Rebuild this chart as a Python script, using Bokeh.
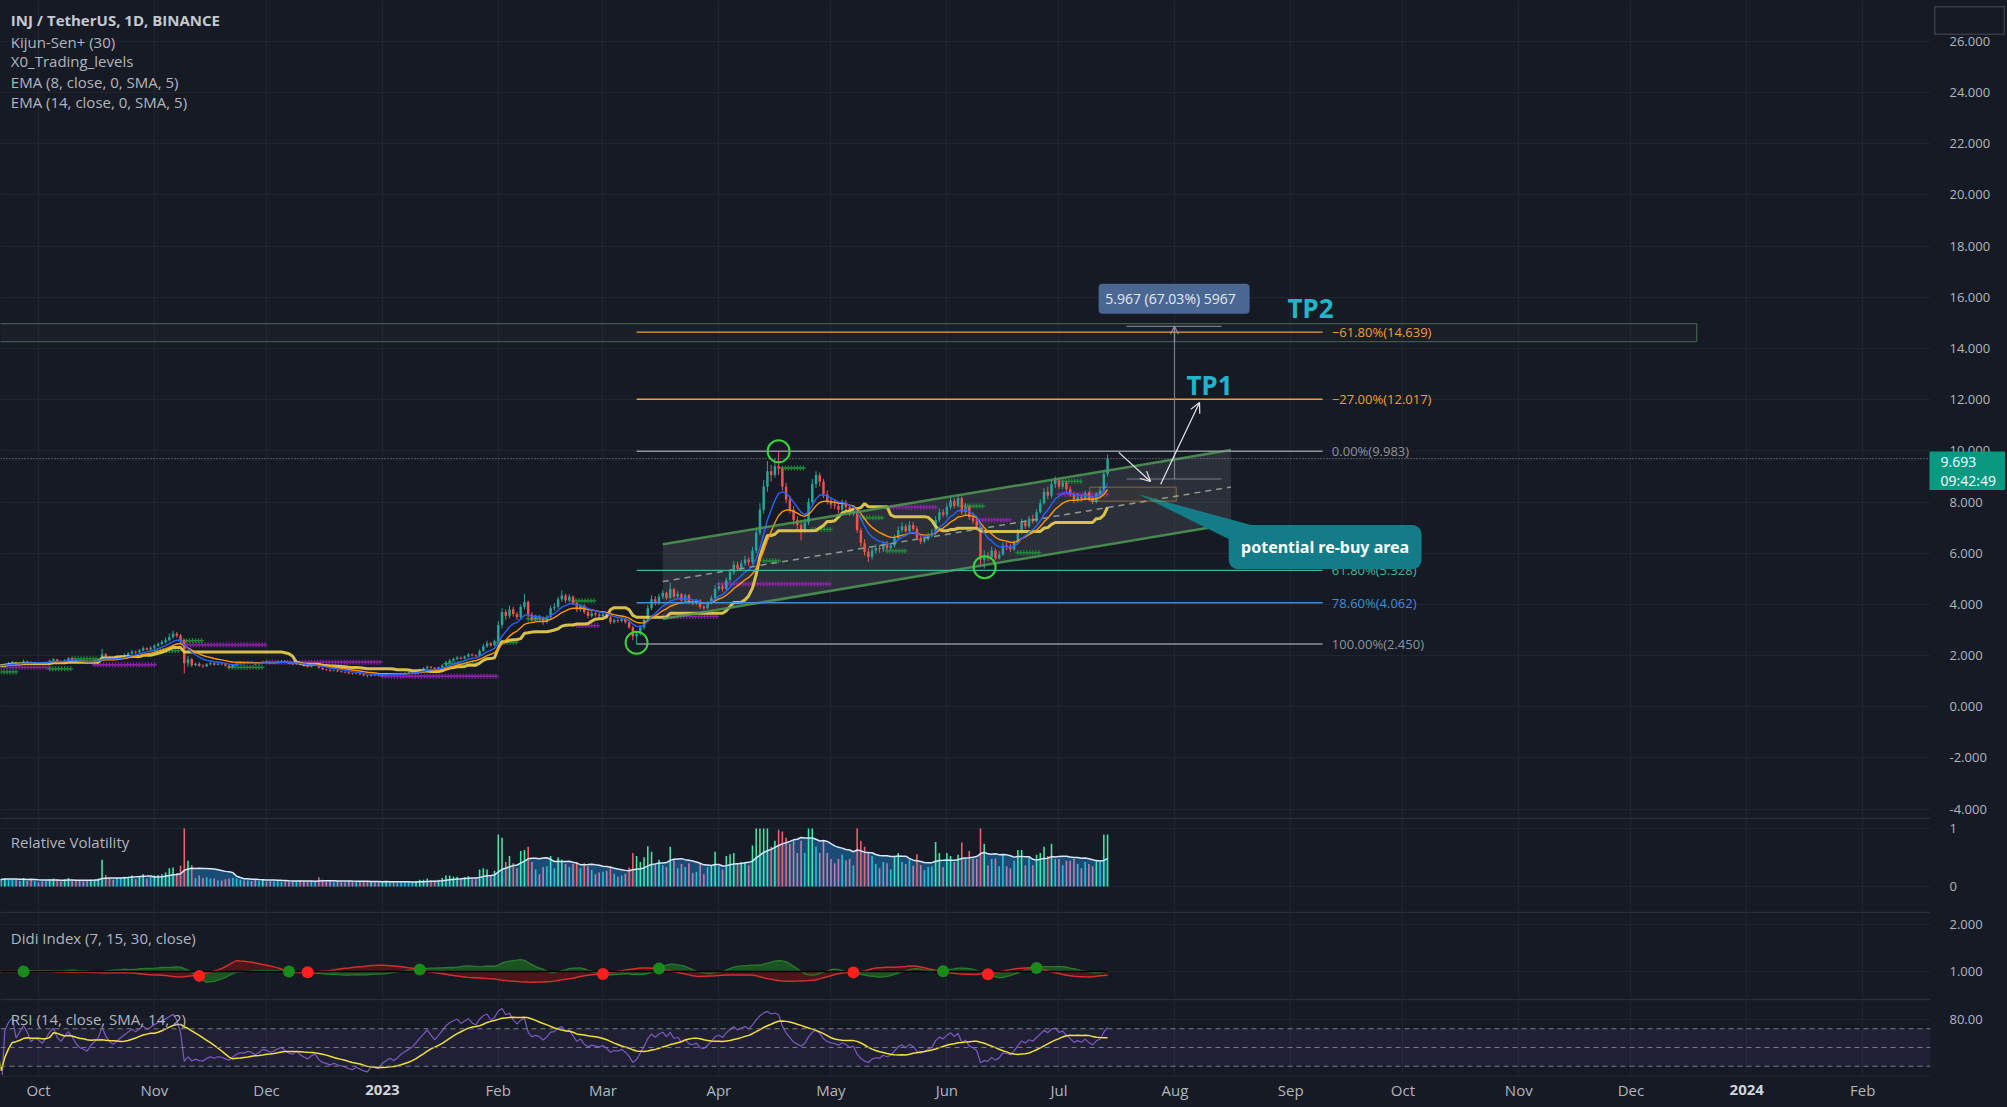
import numpy as np
import pandas as pd
from bokeh.plotting import figure
from bokeh.layouts import column, row
from bokeh.models import (Range1d, FixedTicker, Span, BoxAnnotation, Label, Arrow,
                          OpenHead, NumeralTickFormatter, GridBox, Spacer)
from bokeh.core.properties import value
from bokeh.embed import file_html
from bokeh.resources import INLINE

# ---------------- data (daily INJ/USDT) ----------------
START = "2022-09-20"
FIRST_OPEN = 1.60

close_sep22 = [1.62, 1.58, 1.66, 1.70, 1.74, 1.68, 1.72, 1.78, 1.75, 1.70, 1.73]
high_sep22 = [1.68, 1.65, 1.70, 1.75, 1.79, 1.76, 1.75, 1.84, 1.80, 1.78, 1.76]
low_sep22 = [1.56, 1.54, 1.56, 1.63, 1.67, 1.64, 1.66, 1.70, 1.71, 1.66, 1.67]

close_oct22 = [1.72, 1.70, 1.74, 1.80, 1.85, 1.79, 1.76, 1.82, 1.88, 1.84, 1.78, 1.74, 1.72, 1.70, 1.76,
               1.80, 1.85, 2.05, 1.95, 1.88, 1.84, 1.90, 1.96, 2.02, 2.08, 2.15, 2.12, 2.20, 2.28, 2.24, 2.30]
high_oct22 = [1.76, 1.75, 1.77, 1.84, 1.90, 1.87, 1.81, 1.86, 1.94, 1.91, 1.86, 1.80, 1.77, 1.75, 1.79,
              1.84, 1.90, 2.26, 2.10, 1.98, 1.91, 1.94, 2.01, 2.08, 2.14, 2.22, 2.19, 2.26, 2.36, 2.32, 2.36]
low_oct22 = [1.69, 1.67, 1.68, 1.72, 1.77, 1.76, 1.73, 1.74, 1.80, 1.81, 1.75, 1.71, 1.69, 1.66, 1.68,
             1.73, 1.77, 1.82, 1.91, 1.84, 1.80, 1.81, 1.87, 1.92, 1.98, 2.04, 2.07, 2.09, 2.16, 2.19, 2.20]

close_nov22 = [2.38, 2.45, 2.52, 2.60, 2.72, 2.85, 2.78, 2.60, 1.70, 1.85, 1.62, 1.68, 1.60, 1.58, 1.66,
               1.70, 1.64, 1.68, 1.66, 1.60, 1.55, 1.62, 1.68, 1.72, 1.70, 1.74, 1.72, 1.66, 1.70, 1.76]
high_nov22 = [2.44, 2.52, 2.60, 2.70, 2.86, 2.97, 2.92, 2.84, 2.64, 1.98, 1.90, 1.72, 1.74, 1.66, 1.70,
              1.75, 1.74, 1.71, 1.72, 1.69, 1.63, 1.66, 1.72, 1.76, 1.76, 1.78, 1.77, 1.74, 1.73, 1.80]
low_nov22 = [2.26, 2.33, 2.40, 2.47, 2.56, 2.66, 2.70, 2.50, 1.30, 1.56, 1.55, 1.58, 1.56, 1.52, 1.55,
             1.62, 1.61, 1.61, 1.62, 1.57, 1.50, 1.52, 1.59, 1.65, 1.66, 1.68, 1.68, 1.63, 1.64, 1.68]

close_dec22 = [1.74, 1.70, 1.72, 1.76, 1.78, 1.72, 1.68, 1.66, 1.70, 1.64, 1.60, 1.56, 1.60, 1.62, 1.52, 1.46,
               1.44, 1.40, 1.42, 1.38, 1.36, 1.34, 1.30, 1.28, 1.30, 1.26, 1.22, 1.20, 1.24, 1.22, 1.20]
high_dec22 = [1.79, 1.77, 1.75, 1.79, 1.82, 1.80, 1.74, 1.71, 1.73, 1.72, 1.66, 1.62, 1.63, 1.66, 1.64, 1.54,
              1.49, 1.46, 1.45, 1.44, 1.40, 1.38, 1.36, 1.32, 1.33, 1.32, 1.28, 1.24, 1.27, 1.26, 1.24]
low_dec22 = [1.71, 1.68, 1.67, 1.70, 1.74, 1.70, 1.66, 1.63, 1.64, 1.62, 1.57, 1.53, 1.54, 1.58, 1.49, 1.43,
             1.41, 1.37, 1.38, 1.35, 1.33, 1.31, 1.27, 1.25, 1.26, 1.23, 1.19, 1.15, 1.18, 1.19, 1.17]

close_jan23 = [1.24, 1.26, 1.28, 1.25, 1.27, 1.30, 1.32, 1.34, 1.36, 1.40, 1.45, 1.50, 1.56, 1.52, 1.48, 1.54,
               1.62, 1.72, 1.80, 1.86, 1.92, 1.88, 1.96, 2.04, 2.00, 1.98, 2.18, 2.36, 2.48, 2.40, 2.56]
high_jan23 = [1.26, 1.29, 1.31, 1.30, 1.29, 1.32, 1.35, 1.37, 1.39, 1.43, 1.49, 1.54, 1.61, 1.59, 1.55, 1.57,
              1.66, 1.78, 1.87, 1.92, 1.98, 1.96, 2.00, 2.10, 2.08, 2.05, 2.24, 2.45, 2.58, 2.52, 2.62]
low_jan23 = [1.18, 1.21, 1.24, 1.22, 1.23, 1.25, 1.28, 1.30, 1.32, 1.34, 1.38, 1.43, 1.48, 1.49, 1.45, 1.46,
             1.52, 1.60, 1.69, 1.76, 1.82, 1.84, 1.85, 1.93, 1.96, 1.93, 1.96, 2.15, 2.30, 2.34, 2.36]

close_feb23 = [3.20, 3.70, 3.55, 3.80, 3.62, 3.50, 3.90, 4.10, 3.60, 3.40, 3.50, 3.45, 3.30, 3.50,
               3.85, 3.90, 4.20, 4.35, 4.15, 4.30, 4.05, 3.80, 3.95, 3.70, 3.55, 3.65, 3.60, 3.55]
high_feb23 = [3.35, 3.85, 3.80, 3.95, 3.90, 3.70, 4.00, 4.40, 4.15, 3.70, 3.60, 3.58, 3.52, 3.58,
              3.95, 4.05, 4.30, 4.54, 4.42, 4.40, 4.35, 4.10, 4.02, 4.00, 3.78, 3.75, 3.72, 3.68]
low_feb23 = [2.50, 3.05, 3.40, 3.45, 3.52, 3.40, 3.42, 3.80, 3.50, 3.30, 3.32, 3.38, 3.20, 3.25,
             3.45, 3.75, 3.82, 4.10, 4.05, 4.08, 3.98, 3.70, 3.72, 3.62, 3.45, 3.48, 3.52, 3.45]

close_mar23 = [3.62, 3.50, 3.30, 3.38, 3.35, 3.42, 3.30, 3.10, 2.75, 2.85, 3.10, 3.40, 3.85, 4.20, 4.05, 4.30,
               4.45, 4.25, 4.60, 4.30, 4.40, 4.15, 4.35, 4.10, 4.05, 4.15, 3.90, 3.85, 4.05, 4.25, 4.60]
high_mar23 = [3.72, 3.68, 3.55, 3.45, 3.44, 3.48, 3.46, 3.36, 3.15, 2.95, 3.18, 3.50, 3.98, 4.35, 4.32, 4.42,
              4.55, 4.50, 4.85, 4.65, 4.52, 4.45, 4.42, 4.40, 4.18, 4.22, 4.20, 3.98, 4.12, 4.35, 4.75]
low_mar23 = [3.48, 3.42, 3.22, 3.24, 3.28, 3.30, 3.25, 3.05, 2.60, 2.45, 2.78, 3.02, 3.32, 3.78, 3.95, 3.98,
             4.20, 4.18, 4.20, 4.22, 4.22, 4.08, 4.10, 4.02, 3.96, 3.98, 3.82, 3.78, 3.80, 4.00, 4.18]

close_apr23 = [4.70, 4.60, 4.95, 5.25, 5.55, 5.40, 5.60, 5.75, 5.65, 6.10, 6.80, 7.70, 8.60, 9.20, 9.05,
               9.40, 9.30, 8.60, 8.10, 7.70, 7.30, 7.10, 6.90, 7.20, 8.00, 8.70, 9.05, 8.80, 8.30, 8.05]
high_apr23 = [4.85, 4.78, 5.05, 5.38, 5.70, 5.68, 5.72, 5.90, 5.85, 6.25, 7.00, 7.95, 8.85, 9.60, 9.45,
              9.70, 9.98, 9.35, 8.75, 8.25, 7.85, 7.45, 7.25, 7.35, 8.15, 8.90, 9.20, 9.15, 8.90, 8.45]
low_apr23 = [4.52, 4.50, 4.55, 4.85, 5.15, 5.30, 5.32, 5.50, 5.50, 5.58, 6.00, 6.70, 7.55, 8.40, 8.80,
             8.95, 9.05, 8.45, 7.95, 7.55, 7.10, 6.90, 6.50, 6.80, 7.10, 7.90, 8.55, 8.60, 8.15, 7.90]

close_may23 = [7.90, 7.85, 7.70, 7.95, 7.80, 7.55, 7.65, 6.90, 6.40, 6.05, 5.85, 6.10, 6.20, 6.15, 6.35, 6.20,
               6.30, 6.60, 6.90, 7.05, 6.85, 7.10, 6.95, 6.60, 6.45, 6.55, 6.70, 6.80, 7.30, 7.60, 7.50]
high_may23 = [8.20, 8.10, 8.00, 8.10, 8.08, 7.90, 7.80, 7.75, 7.00, 6.55, 6.20, 6.25, 6.35, 6.32, 6.45, 6.48,
              6.40, 6.72, 7.05, 7.20, 7.15, 7.25, 7.22, 7.05, 6.70, 6.65, 6.80, 6.95, 7.45, 7.75, 7.72]
low_may23 = [7.75, 7.72, 7.55, 7.58, 7.65, 7.45, 7.45, 6.80, 6.25, 5.90, 5.65, 5.75, 5.98, 6.02, 6.05, 6.10,
             6.12, 6.22, 6.50, 6.80, 6.78, 6.80, 6.88, 6.52, 6.35, 6.38, 6.48, 6.62, 6.72, 7.20, 7.40]

close_jun23 = [7.80, 8.05, 7.85, 8.15, 7.60, 7.80, 7.40, 7.25, 7.05, 5.75, 5.90, 5.85, 6.10, 5.80, 5.95,
               6.30, 6.25, 6.15, 6.40, 6.80, 7.20, 7.05, 7.35, 7.25, 7.60, 7.95, 8.40, 8.25, 8.70, 8.85]
high_jun23 = [7.95, 8.20, 8.15, 8.30, 8.22, 7.95, 7.88, 7.60, 7.40, 7.10, 6.10, 6.05, 6.25, 6.18, 6.08,
              6.42, 6.45, 6.35, 6.50, 6.95, 7.35, 7.30, 7.45, 7.50, 7.72, 8.10, 8.55, 8.60, 8.85, 9.00]
low_jun23 = [7.40, 7.70, 7.75, 7.78, 7.50, 7.50, 7.30, 7.15, 6.95, 5.45, 5.40, 5.70, 5.80, 5.72, 5.75,
             5.90, 6.12, 6.05, 6.08, 6.35, 6.75, 6.95, 6.98, 7.15, 7.20, 7.55, 7.90, 8.10, 8.15, 8.55]

close_jul23 = [8.60, 8.75, 8.50, 8.30, 8.05, 8.20, 8.10, 8.35, 8.15, 8.00, 8.30, 8.45, 9.10, 9.693]
high_jul23 = [8.95, 8.85, 8.82, 8.62, 8.40, 8.35, 8.30, 8.45, 8.42, 8.25, 8.38, 8.60, 9.25, 9.85]
low_jul23 = [8.50, 8.50, 8.40, 8.20, 7.95, 7.98, 8.00, 8.05, 8.05, 7.92, 7.95, 8.20, 8.40, 9.00]

# time axis
month_dates = ["2022-10-01", "2022-11-01", "2022-12-01", "2023-01-01", "2023-02-01", "2023-03-01",
               "2023-04-01", "2023-05-01", "2023-06-01", "2023-07-01", "2023-08-01", "2023-09-01",
               "2023-10-01", "2023-11-01", "2023-12-01", "2024-01-01", "2024-02-01"]
month_labels = ["Oct", "Nov", "Dec", "2023", "Feb", "Mar", "Apr", "May", "Jun", "Jul", "Aug", "Sep",
                "Oct", "Nov", "Dec", "2024", "Feb"]

price_ticks = list(range(-4, 27, 2))

# drawings (x in days since START, y in USDT)
fib_levels = [2.450, 4.062, 5.328, 9.983, 12.017, 14.639]
fib_labels = ["100.00%(2.450)", "78.60%(4.062)", "61.80%(5.328)", "0.00%(9.983)",
              "\u221227.00%(12.017)", "\u221261.80%(14.639)"]
fib_colors = ["#8f929b", "#3f8fd8", "#3fb59a", "#8f929b", "#f0a030", "#f0a030"]
fib_x = [171.0, 354.5]
fib_label_x = 357.0

channel_x = [178.0, 330.0]
channel_upper = [6.35, 10.03]
channel_lower = [3.43, 7.14]

tp2_zone_x = [-10.0, 454.6]
tp2_zone_y = [14.27, 14.97]

measure_x = 314.9
measure_tick_x = [302.1, 327.5]
measure_y = [8.90, 14.867]
measure_box_x = [294.6, 335.0]
measure_box_y = [15.36, 16.53]
measure_text = "5.967  (67.03%)  5967"

arrows = [((300.0, 9.94), (308.5, 8.80)), ((311.2, 8.69), (321.6, 11.89))]
rebuy_x = [292.2, 315.4]
rebuy_y = [8.03, 8.58]
callout_x = [329.4, 381.0]
callout_y = [5.38, 7.10]
callout_tip = (305.3, 8.30)
callout_text = "potential re-buy area"

pivot_x = [171.0, 209.0, 264.1]
pivot_y = [2.50, 9.98, 5.45]

last_price = 9.693
last_time = "09:42:49"

# Kijun-Sen+ / trading-level marker rows: (start day, end day, price)
plus_green = [(1, 5, 1.36), (14, 20, 1.48), (20, 27, 1.87), (42, 49, 2.19), (49, 55, 2.58),
              (62, 71, 1.54), (120, 128, 1.68), (134, 139, 2.52), (142, 147, 3.43), (154, 160, 4.14),
              (205, 209, 5.70), (210, 216, 9.33), (218, 223, 6.93), (231, 237, 7.38), (238, 243, 6.09),
              (258, 264, 7.84), (273, 279, 6.02), (285, 290, 8.81)]
plus_purple = [(1, 14, 1.54), (26, 42, 1.64), (50, 72, 2.42), (72, 103, 1.74), (103, 134, 1.19),
               (155, 161, 3.17), (178, 193, 3.53), (193, 223, 4.80), (239, 251, 7.80), (262, 271, 7.30),
               (284, 297, 8.30)]

legend_lines = ["INJ / TetherUS, 1D, BINANCE", "Kijun-Sen+ (30)", "X0_Trading_levels",
                "EMA (8, close, 0, SMA, 5)", "EMA (14, close, 0, SMA, 5)"]

# ---------------- assemble series ----------------
close = np.array(close_sep22 + close_oct22 + close_nov22 + close_dec22 + close_jan23 + close_feb23 +
                 close_mar23 + close_apr23 + close_may23 + close_jun23 + close_jul23)
high = np.array(high_sep22 + high_oct22 + high_nov22 + high_dec22 + high_jan23 + high_feb23 +
                high_mar23 + high_apr23 + high_may23 + high_jun23 + high_jul23)
low = np.array(low_sep22 + low_oct22 + low_nov22 + low_dec22 + low_jan23 + low_feb23 +
               low_mar23 + low_apr23 + low_may23 + low_jun23 + low_jul23)
n = len(close)
opn = np.concatenate([[FIRST_OPEN], close[:-1]])
high = np.maximum(high, np.maximum(opn, close))
low = np.minimum(low, np.minimum(opn, close))
x = np.arange(n, dtype=float)
t0 = pd.Timestamp(START)
month_x = [float((pd.Timestamp(d) - t0).days) for d in month_dates]

s = pd.Series(close)
ema8 = s.ewm(span=8, adjust=False).mean().values
ema14 = s.ewm(span=14, adjust=False).mean().values
kijun = ((pd.Series(high).rolling(30, min_periods=1).max() +
          pd.Series(low).rolling(30, min_periods=1).min()) / 2).values

# relative volatility (daily range, scaled to the pane)
rv = np.clip((high - low) / 0.95, 0, 1)
rv_avg = pd.Series(rv).rolling(14, min_periods=1).mean().values
up = close >= opn
above = rv > rv_avg
rv_col = np.where(above, np.where(up, "#3ee8a8", "#f0616d"), np.where(up, "#22c3d6", "#c080ac"))

# Didi index
m7 = s.rolling(7, min_periods=1).mean()
m15 = s.rolling(15, min_periods=1).mean()
m30 = s.rolling(30, min_periods=1).mean()
didi_fast = (m7 / m15).values
didi_slow = (m30 / m15).values
dd = np.sign(didi_fast - didi_slow)
cross = [i for i in range(4, n) if dd[i] != dd[i - 1] and dd[i] != 0]
cross_y = [(didi_fast[i] + didi_slow[i]) / 2 for i in cross]
cross_c = ["#1a8a1a" if dd[i] > 0 else "#ff1f1f" for i in cross]

# RSI
delta = s.diff().fillna(0)
ag = delta.clip(lower=0).ewm(alpha=1 / 14, adjust=False).mean()
al = (-delta.clip(upper=0)).ewm(alpha=1 / 14, adjust=False).mean()
rsi = (100 - 100 / (1 + ag / al)).fillna(50).values
rsi[0] = 50
rsi_ma = pd.Series(rsi).rolling(14, min_periods=1).mean().values

# ---------------- styling ----------------
BG = "#161a25"
GRID = "#20242f"
SEP = "#2a2e39"
TXT = "#b2b5be"
FONT = "Open Sans"
UPC = "#26a69a"
DNC = "#ef5350"

W = 2007
RB = 77
xr = Range1d(0.834, 517.15)


def panel(h, y0, y1, yticks=None, fmt="0.000", axis=True):
    p = figure(width=W, height=h, x_range=xr, y_range=Range1d(y0, y1),
               output_backend="svg", toolbar_location=None,
               x_axis_location=None, y_axis_location=("right" if axis else None),
               min_border_left=0, min_border_right=RB, min_border_top=0, min_border_bottom=0,
               background_fill_color=BG, border_fill_color=BG, outline_line_color=None)
    p.xgrid.ticker = FixedTicker(ticks=month_x)
    p.xgrid.grid_line_color = GRID
    p.ygrid.grid_line_color = GRID
    if axis:
        ax = p.yaxis[0]
        ax.ticker = FixedTicker(ticks=yticks)
        ax.formatter = NumeralTickFormatter(format=fmt)
        ax.axis_line_color = None
        ax.major_tick_line_color = None
        ax.minor_tick_line_color = None
        ax.major_label_standoff = 13
        ax.major_label_text_color = TXT
        ax.major_label_text_font = FONT
        ax.major_label_text_font_size = "13px"
        p.ygrid.ticker = FixedTicker(ticks=yticks)
    return p


# ---------------- main price panel ----------------
pm = panel(817, -4.33, 27.60, price_ticks, "0.000")

pm.add_layout(BoxAnnotation(left=tp2_zone_x[0], right=tp2_zone_x[1], bottom=tp2_zone_y[0], top=tp2_zone_y[1],
                            fill_color="#3a5a40", fill_alpha=0.08, line_color="#9fe09f", line_width=1.4,
                            level="underlay"))

pm.patch([channel_x[0], channel_x[1], channel_x[1], channel_x[0]],
         [channel_upper[0], channel_upper[1], channel_lower[1], channel_lower[0]],
         fill_color="#9598a1", fill_alpha=0.17, line_color=None)

for rows, col in ((plus_purple, "#8e24aa"), (plus_green, "#1f8f3a")):
    px, py = [], []
    for a, b, v in rows:
        for d in np.arange(a, b + 0.01, 0.8):
            px.append(d)
            py.append(v)
    pm.scatter(px, py, marker="cross", size=5, line_color=col, line_width=1.3, line_alpha=0.9)

ccol = np.where(up, UPC, DNC)
pm.segment(x, high, x, low, color=ccol, line_width=1)
pm.vbar(x=x, width=0.66, top=np.maximum(opn, close), bottom=np.minimum(opn, close),
        fill_color=ccol, line_color=None)

pm.line(x, kijun, line_color="#e2c94e", line_width=3, line_alpha=0.95)
pm.line(x, ema14, line_color="#ff9800", line_width=1.4)
pm.line(x, ema8, line_color="#2962ff", line_width=1.4)

pm.line(channel_x, channel_upper, line_color="#4f9a56", line_width=2.5, line_alpha=0.85)
pm.line(channel_x, channel_lower, line_color="#4f9a56", line_width=2.5, line_alpha=0.85)
pm.line(channel_x, [(a + b) / 2 for a, b in zip(channel_upper, channel_lower)],
        line_color="#8d9a92", line_width=1.5, line_dash="6 5")

pm.segment([fib_x[0]] * 6, fib_levels, [fib_x[1]] * 6, fib_levels, line_color=fib_colors, line_width=1.3)
pm.text([fib_label_x] * 6, fib_levels, text=fib_labels, text_color=fib_colors, text_font=value(FONT),
        text_font_size="13px", text_baseline="middle", text_align="left")

pm.scatter(pivot_x, pivot_y, marker="circle", size=22, fill_alpha=0, line_color="#3bd13b", line_width=2)

pm.add_layout(Span(location=last_price, dimension="width", line_color="#9598a1", line_dash="1 2",
                   line_width=1))

pm.segment([measure_tick_x[0], measure_tick_x[0]], measure_y, [measure_tick_x[1], measure_tick_x[1]], measure_y,
           line_color="#8f929b", line_width=1.2, line_alpha=0.8)
pm.segment([measure_x], [measure_y[0]], [measure_x], [measure_y[1]], line_color="#8f929b", line_width=1.2,
           line_alpha=0.8)
pm.add_layout(Arrow(end=OpenHead(size=8, line_color="#8f929b", line_width=1.2), x_start=measure_x,
                    y_start=measure_y[1] - 0.6, x_end=measure_x, y_end=measure_y[1],
                    line_color="#8f929b", line_width=1.2))
pm.add_layout(BoxAnnotation(left=measure_box_x[0], right=measure_box_x[1], bottom=measure_box_y[0],
                            top=measure_box_y[1], fill_color="#4a6794", fill_alpha=1, line_color=None,
                            border_radius=4))
pm.add_layout(Label(x=sum(measure_box_x) / 2, y=sum(measure_box_y) / 2, text=measure_text,
                    text_align="center", text_baseline="middle", text_color="#e6e9f0",
                    text_font=FONT, text_font_size="14px"))

pm.add_layout(BoxAnnotation(left=rebuy_x[0], right=rebuy_x[1], bottom=rebuy_y[0], top=rebuy_y[1],
                            fill_color="#e8b13a", fill_alpha=0.05, line_color="#e8b13a", line_width=1.5))
for (xa, ya), (xb, yb) in arrows:
    pm.add_layout(Arrow(end=OpenHead(size=10, line_color="#e8e8e8", line_width=1.2),
                        x_start=xa, y_start=ya, x_end=xb, y_end=yb, line_color="#e8e8e8", line_width=1.2))

pm.patch([callout_tip[0], callout_x[0] + 6.0, callout_x[0]],
         [callout_tip[1], callout_y[1], callout_y[1] - 0.55], fill_color="#137c88", line_color=None)
pm.add_layout(BoxAnnotation(left=callout_x[0], right=callout_x[1], bottom=callout_y[0], top=callout_y[1],
                            fill_color="#137c88", fill_alpha=1, line_color=None, border_radius=9))
pm.add_layout(Label(x=sum(callout_x) / 2, y=sum(callout_y) / 2, text=callout_text, text_align="center",
                    text_baseline="middle", text_color="#ffffff", text_font="Noto Sans",
                    text_font_size="16px", text_font_style="bold"))

pm.add_layout(Label(x=324.3, y=12.59, text="TP1", text_align="center", text_baseline="middle",
                    text_color="#22b5c9", text_font="Noto Sans", text_font_size="26px", text_font_style="bold"))
pm.add_layout(Label(x=351.3, y=15.59, text="TP2", text_align="center", text_baseline="middle",
                    text_color="#22b5c9", text_font="Noto Sans", text_font_size="26px", text_font_style="bold"))

leg_y = [26.82, 25.99, 25.22, 24.41, 23.63]
pm.text([3.6], [leg_y[0]], text=[legend_lines[0]], text_color="#c5c8d0", text_font=value(FONT),
        text_font_size="15px", text_font_style="bold", text_baseline="middle")
pm.text([3.6] * 4, leg_y[1:], text=legend_lines[1:], text_color=TXT, text_font=value(FONT),
        text_font_size="15px", text_baseline="middle")

# ---------------- relative volatility ----------------
prv = panel(94, -0.431, 1.19, [0, 1], "0")
prv.add_layout(Span(location=1.19 - 0.012, dimension="width", line_color=SEP, line_width=1.5))
prv.varea(x=x, y1=np.zeros(n), y2=rv_avg, fill_color="#1e67a0", fill_alpha=0.65)
prv.vbar(x=x, top=rv, bottom=0, width=0.42, fill_color=rv_col, line_color=None)
prv.line(x, rv_avg, line_color="#d6e8fa", line_width=1.5)
prv.text([3.6], [0.776], text=["Relative Volatility"], text_color=TXT, text_font=value(FONT),
         text_font_size="15px", text_baseline="middle")

# ---------------- Didi index ----------------
pdd = panel(87, 0.426, 2.277, [1, 2], "0.000")
pdd.add_layout(Span(location=2.277 - 0.015, dimension="width", line_color=SEP, line_width=1.5))
pdd.varea(x=x, y1=np.ones(n), y2=didi_fast, fill_color="#1d5e22", fill_alpha=0.85)
pdd.varea(x=x, y1=np.ones(n), y2=didi_slow, fill_color="#6e1414", fill_alpha=0.6)
pdd.line(x, didi_fast, line_color="#2a7a2e", line_width=1.3)
pdd.line(x, didi_slow, line_color="#d32f2f", line_width=1.5)
pdd.line([0, n - 1], [1, 1], line_color="#000000", line_width=1.5)
pdd.scatter([float(i) for i in cross], cross_y, marker="circle", size=12, fill_color=cross_c, line_color=None)
pdd.text([3.6], [1.72], text=["Didi Index (7, 15, 30, close)"], text_color=TXT, text_font=value(FONT),
         text_font_size="15px", text_baseline="middle")

# ---------------- RSI ----------------
prs = panel(77, 20.1, 102.3, [80], "0.00")
prs.add_layout(Span(location=102.3 - 1.2, dimension="width", line_color=SEP, line_width=1.5))
prs.add_layout(BoxAnnotation(bottom=30, top=70, fill_color="#7e57c2", fill_alpha=0.1, line_color=None,
                             level="underlay"))
for lv in (70, 50, 30):
    prs.add_layout(Span(location=lv, dimension="width", line_color="#787b86", line_dash="5 4", line_width=1))
prs.line(x, rsi, line_color="#7e57c2", line_width=1.2)
prs.line(x, rsi_ma, line_color="#f2e03a", line_width=1.5)
prs.text([3.6], [80], text=["RSI (14, close, SMA, 14, 2)"], text_color=TXT, text_font=value(FONT),
         text_font_size="15px", text_baseline="middle")

# ---------------- time axis strip ----------------
pt = panel(32, 0, 32, axis=False)
pt.xgrid.visible = False
pt.ygrid.visible = False
pt.add_layout(Span(location=31.5, dimension="width", line_color=SEP, line_width=1))
norm_i = [i for i, l in enumerate(month_labels) if not l.isdigit()]
bold_i = [i for i, l in enumerate(month_labels) if l.isdigit()]
pt.text([month_x[i] for i in norm_i], [18] * len(norm_i), text=[month_labels[i] for i in norm_i],
        text_color=TXT, text_font=value(FONT), text_font_size="15px", text_align="center",
        text_baseline="middle")
pt.text([month_x[i] for i in bold_i], [18] * len(bold_i), text=[month_labels[i] for i in bold_i],
        text_color="#d1d4dc", text_font=value(FONT), text_font_size="15px", text_font_style="bold",
        text_align="center", text_baseline="middle")

# ---------------- last-price tag + corner box on the price scale (overlay) ----------------
tag = figure(width=76, height=39, x_range=Range1d(0, 76), y_range=Range1d(0, 39),
             output_backend="svg", toolbar_location=None, x_axis_location=None, y_axis_location=None,
             min_border=0, background_fill_color="#089981", border_fill_color="#089981",
             outline_line_color=None)
tag.grid.visible = False
tag.text([11, 11], [29, 10], text=["%.3f" % last_price, last_time], text_color="#ffffff",
         text_font=value(FONT), text_font_size="14px", text_baseline="middle", text_align="left")

corner = figure(width=71, height=29, x_range=Range1d(0, 1), y_range=Range1d(0, 1),
                output_backend="svg", toolbar_location=None, x_axis_location=None, y_axis_location=None,
                min_border=0, background_fill_color=BG, border_fill_color=BG,
                outline_line_color="#363a45", outline_line_width=2)
corner.grid.visible = False
corner.scatter([0.5], [0.5], size=1, fill_alpha=0, line_alpha=0)

overlay = column(Spacer(width=10, height=6),
                 row(Spacer(width=1934, height=29), corner, spacing=0),
                 Spacer(width=10, height=416),
                 row(Spacer(width=1929, height=39), tag, spacing=0),
                 spacing=0)

layout = GridBox(children=[(pm, 0, 0), (prv, 1, 0), (pdd, 2, 0), (prs, 3, 0), (pt, 4, 0),
                           (overlay, 0, 0)], spacing=0)

html = file_html(layout, INLINE, title="INJ / TetherUS")
html = html.replace("<head>", "<head><style>html,body{background:#161a25;}</style>", 1)
open("out.html", "w").write(html)
